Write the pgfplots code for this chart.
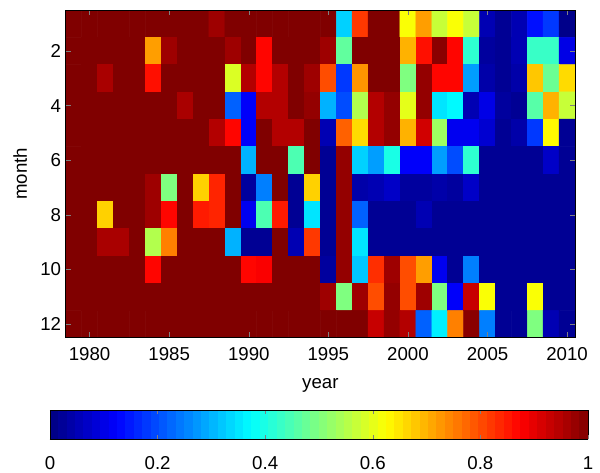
\documentclass[border=0pt]{standalone}
\usepackage{pgfplots}
\pgfplotsset{compat=1.18}
\usepackage{fontspec}
\setmainfont{Liberation Sans}
\begin{document}
\begin{tikzpicture}
\useasboundingbox (0,0) rectangle (450pt,354pt);
\begin{axis}[
  at={(49.3pt,100.7pt)}, anchor=south west,
  scale only axis, width=382pt, height=245.8pt,
  xmin=1978.5, xmax=2010.5, ymin=0.5, ymax=12.5, y dir=reverse,
  xtick={1980,1985,...,2010}, ytick={2,4,...,12},
  tick align=inside, major tick length=4pt,
  xticklabel style={/pgf/number format/1000 sep={}, yshift=-4pt},
  /pgf/number format/assume math mode=true,
  tick label style={font=\fontsize{14}{16}\selectfont},
  label style={font=\fontsize{14}{16}\selectfont},
  xlabel={year}, ylabel={month},
  xlabel style={yshift=-6.5pt},
  ylabel style={yshift=3pt},
  axis on top,
  colormap/jet, point meta min=0, point meta max=1,
  colorbar horizontal,
  colorbar sampled,
  colorbar style={
    at={(parent axis.south west)}, anchor=north west,
    xshift=-11.8pt, yshift=-46pt,
    scale only axis, width=403.5pt, height=21.75pt,
    samples=65,
    y dir=normal, ymin=0, ymax=1, enlargelimits=false,
    xtick={0,0.2,0.4,0.6,0.8,1}, ytick=\empty,
    xticklabel style={/pgf/number format/fixed, yshift=-9pt},
    /pgf/number format/assume math mode=true,
    tick label style={font=\fontsize{14}{16}\selectfont},
    tick align=inside, major tick length=3pt,
    xtick pos=both, xticklabel pos=lower,
    axis on top,
  },
]
\addplot[matrix plot*, mesh/cols=32, point meta=explicit] coordinates {
(1979,1)[1] (1980,1)[1] (1981,1)[1] (1982,1)[1] (1983,1)[1] (1984,1)[1] (1985,1)[1] (1986,1)[1] (1987,1)[1] (1988,1)[0.97] (1989,1)[1] (1990,1)[1] (1991,1)[1] (1992,1)[1] (1993,1)[1] (1994,1)[1]
(1995,1)[1] (1996,1)[0.33] (1997,1)[0.82] (1998,1)[1] (1999,1)[1] (2000,1)[0.62] (2001,1)[0.72] (2002,1)[0.57] (2003,1)[0.62] (2004,1)[0.57] (2005,1)[0.05] (2006,1)[0.02] (2007,1)[0.05] (2008,1)[0.14] (2009,1)[0.18] (2010,1)[0.01]

(1979,2)[1] (1980,2)[1] (1981,2)[1] (1982,2)[1] (1983,2)[1] (1984,2)[0.72] (1985,2)[0.97] (1986,2)[1] (1987,2)[1] (1988,2)[1] (1989,2)[0.97] (1990,2)[1] (1991,2)[0.87] (1992,2)[1] (1993,2)[1] (1994,2)[1]
(1995,2)[0.97] (1996,2)[0.47] (1997,2)[1] (1998,2)[1] (1999,2)[1] (2000,2)[0.7] (2001,2)[0.86] (2002,2)[0.99] (2003,2)[0.87] (2004,2)[0.42] (2005,2)[0.03] (2006,2)[0.02] (2007,2)[0.05] (2008,2)[0.43] (2009,2)[0.43] (2010,2)[0.1]

(1979,3)[1] (1980,3)[1] (1981,3)[0.96] (1982,3)[1] (1983,3)[1] (1984,3)[0.86] (1985,3)[1] (1986,3)[1] (1987,3)[1] (1988,3)[1] (1989,3)[0.59] (1990,3)[0.95] (1991,3)[0.87] (1992,3)[0.95] (1993,3)[1] (1994,3)[0.97]
(1995,3)[0.8] (1996,3)[0.18] (1997,3)[0.73] (1998,3)[1] (1999,3)[1] (2000,3)[0.5] (2001,3)[0.98] (2002,3)[0.87] (2003,3)[0.87] (2004,3)[0.28] (2005,3)[0.04] (2006,3)[0.02] (2007,3)[0.04] (2008,3)[0.68] (2009,3)[0.48] (2010,3)[0.66]

(1979,4)[1] (1980,4)[1] (1981,4)[1] (1982,4)[1] (1983,4)[1] (1984,4)[1] (1985,4)[1] (1986,4)[0.96] (1987,4)[1] (1988,4)[1] (1989,4)[0.22] (1990,4)[0.12] (1991,4)[0.95] (1992,4)[0.95] (1993,4)[1] (1994,4)[0.98]
(1995,4)[0.3] (1996,4)[0.2] (1997,4)[0.55] (1998,4)[0.95] (1999,4)[0.98] (2000,4)[0.6] (2001,4)[0.98] (2002,4)[0.35] (2003,4)[0.37] (2004,4)[0.05] (2005,4)[0.1] (2006,4)[0.03] (2007,4)[0.02] (2008,4)[0.46] (2009,4)[0.7] (2010,4)[0.57]

(1979,5)[1] (1980,5)[1] (1981,5)[1] (1982,5)[1] (1983,5)[1] (1984,5)[1] (1985,5)[1] (1986,5)[1] (1987,5)[1] (1988,5)[0.95] (1989,5)[0.87] (1990,5)[0.12] (1991,5)[1] (1992,5)[0.95] (1993,5)[0.95] (1994,5)[1]
(1995,5)[0.05] (1996,5)[0.78] (1997,5)[0.66] (1998,5)[0.95] (1999,5)[0.98] (2000,5)[0.7] (2001,5)[0.92] (2002,5)[0.53] (2003,5)[0.11] (2004,5)[0.11] (2005,5)[0.08] (2006,5)[0.02] (2007,5)[0.04] (2008,5)[0.18] (2009,5)[0.63] (2010,5)[0.02]

(1979,6)[1] (1980,6)[1] (1981,6)[1] (1982,6)[1] (1983,6)[1] (1984,6)[1] (1985,6)[1] (1986,6)[1] (1987,6)[1] (1988,6)[1] (1989,6)[1] (1990,6)[0.3] (1991,6)[1] (1992,6)[1] (1993,6)[0.45] (1994,6)[1]
(1995,6)[0.02] (1996,6)[0.98] (1997,6)[0.33] (1998,6)[0.28] (1999,6)[0.4] (2000,6)[0.12] (2001,6)[0.12] (2002,6)[0.28] (2003,6)[0.2] (2004,6)[0.42] (2005,6)[0.02] (2006,6)[0.02] (2007,6)[0.02] (2008,6)[0.02] (2009,6)[0.07] (2010,6)[0.02]

(1979,7)[1] (1980,7)[1] (1981,7)[1] (1982,7)[1] (1983,7)[1] (1984,7)[0.97] (1985,7)[0.5] (1986,7)[1] (1987,7)[0.67] (1988,7)[0.84] (1989,7)[1] (1990,7)[0.03] (1991,7)[0.25] (1992,7)[1] (1993,7)[0.02] (1994,7)[0.67]
(1995,7)[0.02] (1996,7)[0.98] (1997,7)[0.04] (1998,7)[0.05] (1999,7)[0.07] (2000,7)[0.03] (2001,7)[0.03] (2002,7)[0.04] (2003,7)[0.03] (2004,7)[0.07] (2005,7)[0.02] (2006,7)[0.02] (2007,7)[0.02] (2008,7)[0.02] (2009,7)[0.02] (2010,7)[0.02]

(1979,8)[1] (1980,8)[1] (1981,8)[0.67] (1982,8)[1] (1983,8)[1] (1984,8)[0.97] (1985,8)[0.87] (1986,8)[1] (1987,8)[0.85] (1988,8)[0.84] (1989,8)[1] (1990,8)[0.11] (1991,8)[0.45] (1992,8)[0.85] (1993,8)[0.02] (1994,8)[0.35]
(1995,8)[0.02] (1996,8)[0.98] (1997,8)[0.22] (1998,8)[0.02] (1999,8)[0.02] (2000,8)[0.02] (2001,8)[0.05] (2002,8)[0.02] (2003,8)[0.02] (2004,8)[0.02] (2005,8)[0.02] (2006,8)[0.02] (2007,8)[0.02] (2008,8)[0.02] (2009,8)[0.02] (2010,8)[0.02]

(1979,9)[1] (1980,9)[1] (1981,9)[0.96] (1982,9)[0.96] (1983,9)[1] (1984,9)[0.55] (1985,9)[0.75] (1986,9)[1] (1987,9)[1] (1988,9)[1] (1989,9)[0.3] (1990,9)[0.02] (1991,9)[0.02] (1992,9)[1] (1993,9)[0.05] (1994,9)[0.82]
(1995,9)[0.02] (1996,9)[0.98] (1997,9)[0.35] (1998,9)[0.02] (1999,9)[0.02] (2000,9)[0.02] (2001,9)[0.02] (2002,9)[0.02] (2003,9)[0.02] (2004,9)[0.02] (2005,9)[0.02] (2006,9)[0.02] (2007,9)[0.02] (2008,9)[0.02] (2009,9)[0.02] (2010,9)[0.02]

(1979,10)[1] (1980,10)[1] (1981,10)[1] (1982,10)[1] (1983,10)[1] (1984,10)[0.87] (1985,10)[1] (1986,10)[1] (1987,10)[1] (1988,10)[1] (1989,10)[1] (1990,10)[0.87] (1991,10)[0.88] (1992,10)[1] (1993,10)[1] (1994,10)[1]
(1995,10)[0.03] (1996,10)[0.98] (1997,10)[0.32] (1998,10)[0.83] (1999,10)[0.97] (2000,10)[0.8] (2001,10)[0.72] (2002,10)[0.11] (2003,10)[0.02] (2004,10)[0.25] (2005,10)[0.02] (2006,10)[0.02] (2007,10)[0.02] (2008,10)[0.02] (2009,10)[0.02] (2010,10)[0.02]

(1979,11)[1] (1980,11)[1] (1981,11)[1] (1982,11)[1] (1983,11)[1] (1984,11)[1] (1985,11)[1] (1986,11)[1] (1987,11)[1] (1988,11)[1] (1989,11)[1] (1990,11)[1] (1991,11)[1] (1992,11)[1] (1993,11)[1] (1994,11)[1]
(1995,11)[0.97] (1996,11)[0.5] (1997,11)[0.97] (1998,11)[0.8] (1999,11)[0.98] (2000,11)[0.8] (2001,11)[0.97] (2002,11)[0.5] (2003,11)[0.12] (2004,11)[0.93] (2005,11)[0.62] (2006,11)[0.02] (2007,11)[0.02] (2008,11)[0.62] (2009,11)[0.02] (2010,11)[0.02]

(1979,12)[1] (1980,12)[1] (1981,12)[1] (1982,12)[1] (1983,12)[1] (1984,12)[1] (1985,12)[1] (1986,12)[1] (1987,12)[1] (1988,12)[1] (1989,12)[1] (1990,12)[1] (1991,12)[1] (1992,12)[1] (1993,12)[1] (1994,12)[1]
(1995,12)[1] (1996,12)[1] (1997,12)[1] (1998,12)[0.93] (1999,12)[0.98] (2000,12)[0.95] (2001,12)[0.22] (2002,12)[0.36] (2003,12)[0.75] (2004,12)[0.99] (2005,12)[0.25] (2006,12)[0.02] (2007,12)[0.02] (2008,12)[0.5] (2009,12)[0.05] (2010,12)[0.02]
};
\end{axis}
\end{tikzpicture}
\end{document}
